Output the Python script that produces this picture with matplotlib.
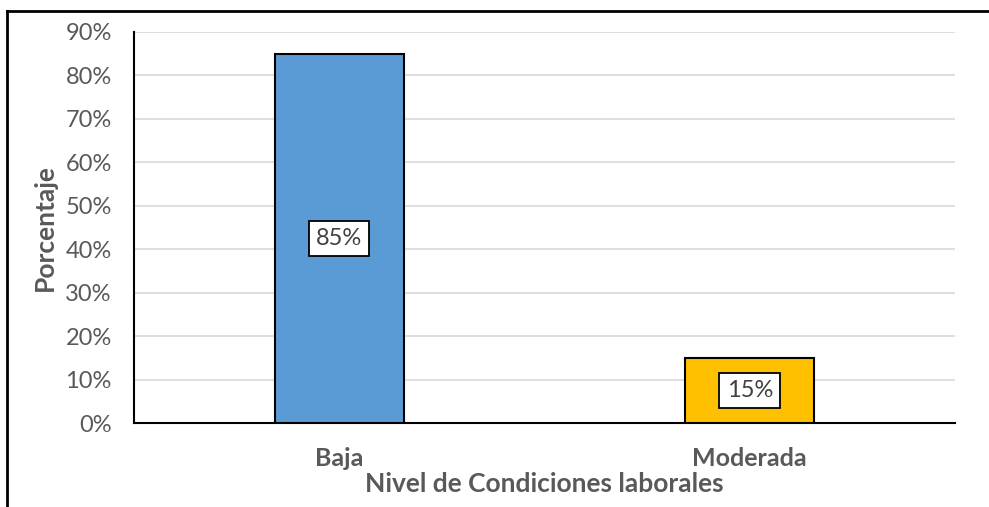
import matplotlib
matplotlib.use("Agg")
import matplotlib.pyplot as plt
from matplotlib.lines import Line2D
from matplotlib.ticker import PercentFormatter

# ── Data ──────────────────────────────────────────────────────────────────────

categories = ["Baja", "Moderada"]
values     = [85, 15]
bar_colors = ["#5B9BD5", "#FFC000"]
y_ticks    = [0, 10, 20, 30, 40, 50, 60, 70, 80, 90]

plt.rcParams["font.family"] = ["Lato", "DejaVu Sans"]
TEXT_GREY = "#595959"

fig = plt.figure(figsize=(9.89, 5.07), dpi=100)
ax = fig.add_axes([134 / 989, 1 - 423 / 507, (955 - 134) / 989, (423 - 32) / 507])

x = range(len(categories))
bars = ax.bar(x, values, width=0.315, color=bar_colors,
              edgecolor="black", linewidth=1.5, zorder=3)

for bar, v in zip(bars, values):
    ax.text(bar.get_x() + bar.get_width() / 2, v / 2, f"{v}%",
            ha="center", va="center", fontsize=17, color="#404040", zorder=4,
            bbox=dict(boxstyle="square,pad=0.3", fc="white", ec="black", lw=1.3))

ax.set_xlim(-0.5, 1.5)
ax.set_ylim(0, 90)
ax.set_yticks(y_ticks)
ax.yaxis.set_major_formatter(PercentFormatter(decimals=0))
ax.set_xticks(list(x))
ax.set_xticklabels(categories, fontsize=18, fontweight="bold", color=TEXT_GREY)
ax.tick_params(axis="y", labelsize=17, labelcolor=TEXT_GREY, length=0, pad=16)
ax.tick_params(axis="x", length=0, pad=17)

ax.grid(axis="y", color="#D9D9D9", linewidth=1.2, zorder=0)
for side in ["top", "right"]:
    ax.spines[side].set_visible(False)
ax.spines["left"].set_linewidth(1.5)
ax.spines["bottom"].set_linewidth(1.5)

ax.set_ylabel("Porcentaje", fontsize=19, fontweight="bold", color=TEXT_GREY, labelpad=6)
ax.set_xlabel("Nivel de Condiciones laborales", fontsize=19, fontweight="bold",
              color=TEXT_GREY, labelpad=2)

# outer frame (top and left edges only, as in the reference crop)
fig.add_artist(Line2D([7 / 989, 7 / 989], [0, 1 - 11 / 507], color="black", lw=2))
fig.add_artist(Line2D([7 / 989, 1], [1 - 11 / 507, 1 - 11 / 507], color="black", lw=2))

fig.savefig("out.png", dpi=100)
